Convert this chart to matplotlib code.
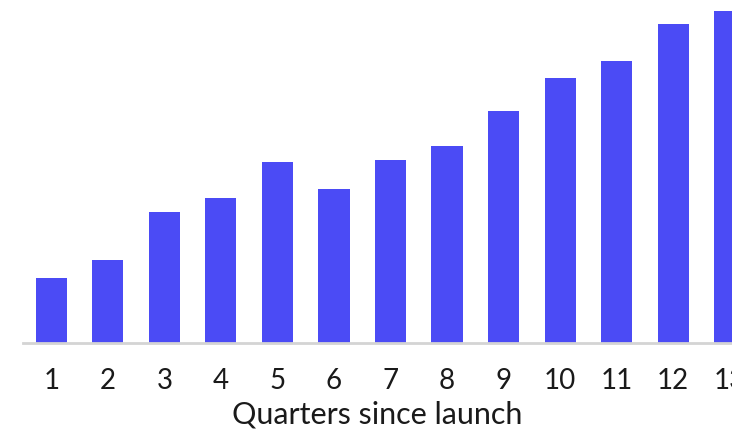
import matplotlib.pyplot as plt
import numpy as np

plt.rcParams['font.family'] = ['Lato', 'DejaVu Sans']

quarters = list(range(1, 14))
values = [65, 83, 131, 145, 181, 154, 183, 197, 232, 265, 282, 319, 332]

bar_color = '#4b4bf5'

fig = plt.figure(figsize=(7.32, 4.30), dpi=100)
ax = fig.add_axes([23 / 732, 87 / 430, 1 - 23 / 732, 343 / 430])

ax.bar(quarters, values, width=0.55, color=bar_color)

ax.set_xlim(0.5, 13.04)
ax.set_ylim(0, 343)
ax.set_xticks(quarters)
ax.set_xticklabels([str(q) for q in quarters], fontsize=20, fontweight='normal', color='#1a1a1a')
ax.tick_params(axis='x', length=0, pad=18)
ax.set_yticks([])

for s in ['top', 'right', 'left']:
    ax.spines[s].set_visible(False)
ax.spines['bottom'].set_color('#d4d4d4')
ax.spines['bottom'].set_linewidth(2)

ax.set_xlabel('Quarters since launch', fontsize=22, fontweight='normal', color='#1a1a1a', labelpad=5)

fig.savefig('out.png', dpi=100)
